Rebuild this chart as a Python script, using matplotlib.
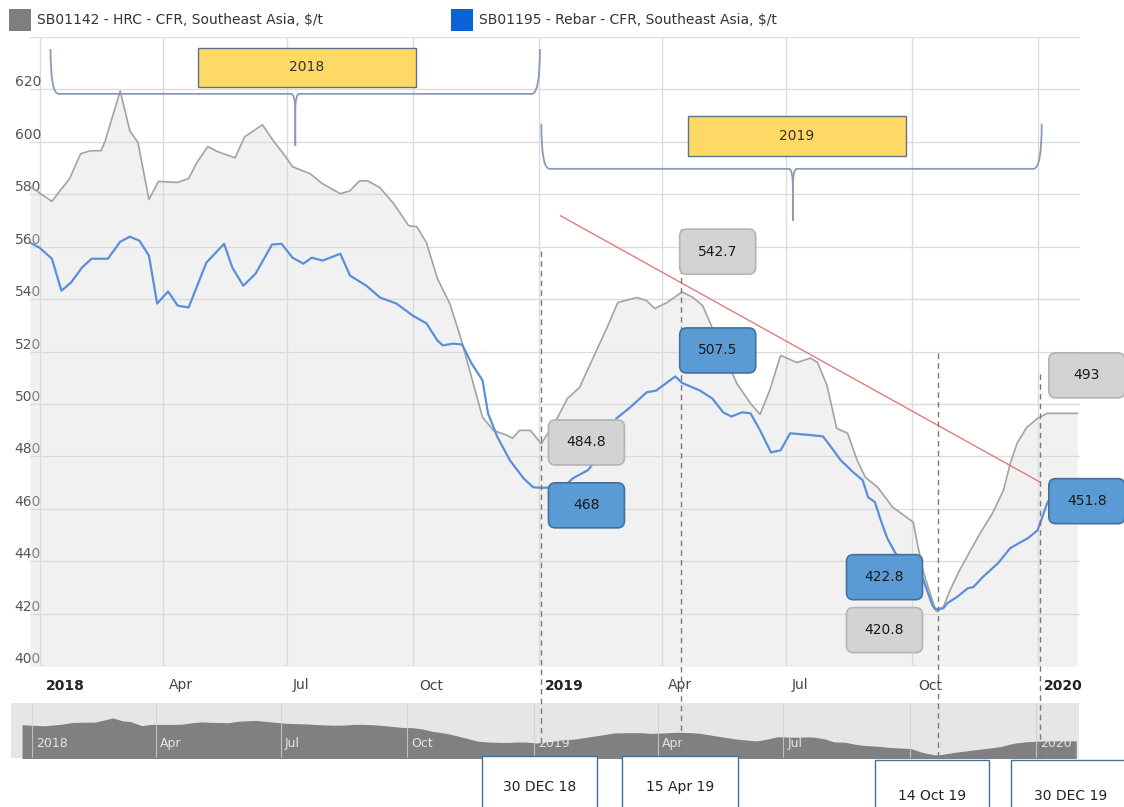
import matplotlib
matplotlib.use('Agg')
import matplotlib.pyplot as plt
import matplotlib.dates as mdates
import numpy as np
from matplotlib.patches import Rectangle, FancyBboxPatch, PathPatch
from matplotlib.path import Path
from matplotlib.transforms import ScaledTranslation, blended_transform_factory

# HRC - CFR Southeast Asia ($/t)
hrc_dates = ['2017-12-25', '2018-01-10', '2018-01-17', '2018-01-23', '2018-01-31', '2018-02-07',
             '2018-02-15', '2018-02-18', '2018-03-01', '2018-03-08', '2018-03-14', '2018-03-22',
             '2018-03-29', '2018-04-12', '2018-04-20', '2018-04-26', '2018-05-04', '2018-05-11',
             '2018-05-24', '2018-05-31', '2018-06-13', '2018-06-21', '2018-06-30', '2018-07-05',
             '2018-07-18', '2018-07-27', '2018-08-09', '2018-08-16', '2018-08-23', '2018-08-29',
             '2018-09-07', '2018-09-17', '2018-09-28', '2018-10-04', '2018-10-11', '2018-10-19',
             '2018-10-28', '2018-11-05', '2018-11-13', '2018-11-21', '2018-11-29', '2018-12-09',
             '2018-12-13', '2018-12-18', '2018-12-26', '2019-01-03', '2019-01-15', '2019-01-22',
             '2019-01-31', '2019-02-09', '2019-02-20', '2019-02-28', '2019-03-14', '2019-03-21',
             '2019-03-27', '2019-04-05', '2019-04-16', '2019-04-24', '2019-05-01', '2019-05-08',
             '2019-05-26', '2019-06-05', '2019-06-12', '2019-06-19', '2019-06-27', '2019-07-09',
             '2019-07-19', '2019-07-24', '2019-07-31', '2019-08-07', '2019-08-15', '2019-08-22',
             '2019-08-28', '2019-09-06', '2019-09-17', '2019-09-27', '2019-10-02', '2019-10-05',
             '2019-10-09', '2019-10-16', '2019-10-19', '2019-10-24', '2019-10-29', '2019-11-05',
             '2019-11-13', '2019-11-20', '2019-11-29', '2019-12-07', '2019-12-12', '2019-12-17',
             '2019-12-24', '2020-01-01', '2020-01-08', '2020-01-30']
hrc_values = [583.0, 577.3, 582.0, 586.0, 595.4, 596.6,
              596.6, 600.4, 619.4, 604.2, 599.7, 578.0,
              584.9, 584.5, 586.0, 592.0, 598.2, 596.3,
              593.9, 601.9, 606.5, 600.4, 594.3, 590.5,
              587.8, 584.0, 580.2, 581.3, 585.1, 585.1,
              582.5, 576.4, 568.0, 567.6, 561.5, 547.8,
              538.3, 525.3, 510.1, 494.9, 489.9, 488.0,
              486.9, 489.9, 489.9, 484.8, 494.9, 502.0,
              506.3, 516.6, 529.0, 538.7, 540.6, 539.4,
              536.4, 538.7, 542.7, 540.6, 537.5, 529.1,
              507.8, 500.2, 496.0, 505.1, 518.5, 515.8,
              517.5, 515.8, 507.0, 490.7, 488.8, 478.5,
              472.0, 468.2, 460.6, 456.8, 454.9, 446.9,
              436.6, 425.1, 420.8, 422.5, 429.0, 436.6,
              444.2, 450.7, 458.3, 467.0, 477.3, 485.0,
              491.0, 494.5, 496.4, 496.4]

# Rebar - CFR Southeast Asia ($/t)
rebar_dates = ['2017-12-25', '2018-01-01', '2018-01-10', '2018-01-17', '2018-01-24', '2018-02-01',
               '2018-02-08', '2018-02-20', '2018-03-01', '2018-03-08', '2018-03-15', '2018-03-22',
               '2018-03-28', '2018-04-05', '2018-04-12', '2018-04-20', '2018-05-03', '2018-05-16',
               '2018-05-22', '2018-05-30', '2018-06-08', '2018-06-20', '2018-06-27', '2018-07-05',
               '2018-07-13', '2018-07-19', '2018-07-27', '2018-08-09', '2018-08-16', '2018-08-28',
               '2018-09-07', '2018-09-19', '2018-10-01', '2018-10-11', '2018-10-19', '2018-10-23',
               '2018-10-30', '2018-11-06', '2018-11-13', '2018-11-21', '2018-11-25', '2018-12-02',
               '2018-12-11', '2018-12-21', '2018-12-28', '2019-01-03', '2019-01-19', '2019-01-26',
               '2019-02-06', '2019-02-09', '2019-02-27', '2019-03-09', '2019-03-21', '2019-03-28',
               '2019-04-11', '2019-04-16', '2019-04-29', '2019-05-08', '2019-05-16', '2019-05-22',
               '2019-05-30', '2019-06-05', '2019-06-12', '2019-06-20', '2019-06-27', '2019-07-04',
               '2019-07-21', '2019-07-28', '2019-08-02', '2019-08-10', '2019-08-19', '2019-08-26',
               '2019-08-30', '2019-09-04', '2019-09-09', '2019-09-13', '2019-09-19', '2019-10-09',
               '2019-10-16', '2019-10-18', '2019-10-24', '2019-10-27', '2019-11-03', '2019-11-11',
               '2019-11-15', '2019-11-22', '2019-12-03', '2019-12-12', '2019-12-25', '2020-01-01',
               '2020-01-08', '2020-01-10', '2020-01-30']
rebar_values = [561.5, 559.6, 555.4, 543.2, 546.3, 552.0,
                555.4, 555.4, 561.9, 563.8, 562.3, 556.6,
                538.3, 542.9, 537.5, 536.8, 553.9, 561.1,
                552.0, 545.1, 549.7, 560.8, 561.1, 555.8,
                553.5, 555.8, 554.7, 557.3, 549.0, 545.1,
                540.6, 538.3, 533.7, 530.7, 524.2, 522.3,
                523.0, 522.7, 515.4, 509.0, 496.4, 487.2,
                478.5, 471.6, 468.2, 468.0, 468.2, 471.6,
                474.7, 476.6, 494.5, 498.7, 504.4, 505.1,
                510.5, 508.0, 505.1, 502.1, 496.8, 495.2,
                496.8, 496.4, 489.9, 481.5, 482.3, 488.8,
                488.0, 487.6, 484.2, 478.5, 474.0, 470.9,
                464.4, 462.5, 454.5, 448.8, 443.0, 433.5,
                423.2, 421.7, 422.0, 424.0, 426.3, 429.7,
                430.1, 434.0, 439.2, 445.0, 448.8, 451.8,
                462.1, 464.0, 464.0]

legend_labels = ['SB01142 - HRC - CFR, Southeast Asia, $/t', 'SB01195 - Rebar - CFR, Southeast Asia, $/t']
tick_dates = ['2018-01-01', '2018-04-01', '2018-07-01', '2018-10-01', '2019-01-01',
              '2019-04-01', '2019-07-01', '2019-10-01', '2020-01-01']
tick_labels = ['2018', 'Apr', 'Jul', 'Oct', '2019', 'Apr', 'Jul', 'Oct', '2020']

# value call-outs
box_labels = ['542.7', '507.5', '484.8', '468', '422.8', '420.8', '493', '451.8']
box_series = ['hrc', 'rebar', 'hrc', 'rebar', 'rebar', 'hrc', 'hrc', 'rebar']
box_dates = ['2019-05-12', '2019-05-12', '2019-02-05', '2019-02-05',
             '2019-09-11', '2019-09-11', '2020-02-06', '2020-02-06']
box_values = [558.1, 520.4, 485.3, 461.3, 433.9, 413.7, 510.9, 462.9]

# marker dates (dashed lines + boxes underneath)
mark_dates = ['2019-01-03', '2019-04-15', '2019-10-20', '2020-01-03']
mark_tops = [558.5, 566.9, 519.6, 511.6]
mark_labels = ['30 DEC 18', '15 Apr 19', '14 Oct 19', '30 DEC 19']

trend_dates = ['2019-01-17', '2020-01-03']
trend_values = [571.8, 470.1]


def num(d):
    return mdates.date2num(np.datetime64(d))


W, H = 1124, 807
fig = plt.figure(figsize=(W / 100, H / 100), dpi=100)


def px_rect(x0, y0, x1, y1):
    return [x0 / W, 1 - y1 / H, (x1 - x0) / W, (y1 - y0) / H]


nav = fig.add_axes(px_rect(11, 703, 1079, 758))
ax = fig.add_axes(px_rect(30, 37, 1080, 666))
ax.set_zorder(3)
ax.set_facecolor('none')

hx = np.array(hrc_dates, dtype='datetime64[D]')
rx = np.array(rebar_dates, dtype='datetime64[D]')

# main series
ax.fill_between(hx, hrc_values, 400, color='#d9d9d9', alpha=0.35, lw=0, zorder=1)
ax.plot(hx, hrc_values, color='#a3a3a3', lw=1.2, zorder=3)
ax.plot(rx, rebar_values, color='#5b8fd9', lw=1.6, zorder=4)
ax.plot(np.array(trend_dates, dtype='datetime64[D]'), trend_values, color='#e57c7c', lw=1, zorder=4)

ax.set_xlim(num('2017-12-25'), num('2020-02-01'))
ax.set_ylim(400, 640)
for s in ax.spines.values():
    s.set_visible(False)

ax.set_yticks(np.arange(400, 641, 20))
ax.set_yticklabels([str(v) if v < 640 else '' for v in range(400, 641, 20)])
ax.tick_params(axis='y', length=0, pad=11, labelsize=10, labelcolor='#555555')
for lbl in ax.get_yticklabels():
    lbl.set_ha('left')
    lbl.set_va('bottom')

ax.set_xticks([num(d) for d in tick_dates])
ax.set_xticklabels(tick_labels)
ax.tick_params(axis='x', length=0, pad=9, labelsize=10, labelcolor='#444444')
shift = ScaledTranslation(6 / 100, 0, fig.dpi_scale_trans)
for lbl in ax.get_xticklabels():
    lbl.set_ha('left')
    lbl.set_transform(lbl.get_transform() + shift)
    if lbl.get_text().isdigit():
        lbl.set_fontweight('bold')
        lbl.set_color('#222222')
ax.grid(True, color='#dcdcdc', lw=1)
ax.set_axisbelow(True)

# dashed marker lines, running down to the date boxes
for d, top in zip(mark_dates, mark_tops):
    ax.plot([num(d), num(d)], [top, 364.9], ls=(0, (4, 3)), color='#7a7a7a', lw=1,
            clip_on=False, zorder=5)


# curly braces
def brace(x0, x1, xm, ytop, yline, ytip, rx=6, cx=3, cy=7):
    codes = [Path.MOVETO, Path.CURVE3, Path.CURVE3, Path.LINETO, Path.CURVE3, Path.CURVE3, Path.LINETO]
    for xe, sgn in ((x0, 1), (x1, -1)):
        verts = [(xe, ytop), (xe, yline), (xe + sgn * rx, yline), (xm - sgn * cx, yline),
                 (xm, yline), (xm, yline - cy), (xm, ytip)]
        ax.add_patch(PathPatch(Path(verts, codes), fc='none', ec='#8c9ab3', lw=1.3,
                               zorder=5, clip_on=False))


brace(num('2018-01-09'), num('2019-01-02'), num('2018-07-07'), 635.4, 618.3, 598.5)
brace(num('2019-01-03'), num('2020-01-04'), num('2019-07-06'), 606.9, 589.7, 569.9)

for d0, d1, y0, y1, txt in (('2018-04-27', '2018-10-03', 621.0, 635.8, '2018'),
                            ('2019-04-20', '2019-09-27', 594.7, 609.9, '2019')):
    ax.add_patch(Rectangle((num(d0), y0), num(d1) - num(d0), y1 - y0, fc='#ffd966',
                           ec='#5f7386', lw=1, zorder=6))
    ax.text((num(d0) + num(d1)) / 2, (y0 + y1) / 2, txt, ha='center', va='center',
            fontsize=10, color='#333333', zorder=7)

# value call-out boxes
styles = {'hrc': ('#d3d3d3', '#b4b4b4'), 'rebar': ('#5b9bd5', '#41719c')}
for lab, ser, d, v in zip(box_labels, box_series, box_dates, box_values):
    fc, ec = styles[ser]
    trans = fig.dpi_scale_trans + ScaledTranslation(num(d), v, ax.transData)
    p = FancyBboxPatch((-0.38, -0.225), 0.76, 0.45, boxstyle='round,pad=0,rounding_size=0.07',
                       fc=fc, ec=ec, lw=1.2, transform=trans, clip_on=False, zorder=8)
    ax.add_artist(p)
    ax.text(num(d), v, lab, ha='center', va='center', fontsize=10, color='#1a1a1a',
            zorder=9, clip_on=False)

# navigator
nav.set_facecolor('#e6e6e6')
nav.fill_between(hx, hrc_values, 0, color='#808080', lw=0)
nav.set_xlim(num('2017-12-17'), num('2020-02-01'))
nav.set_ylim(404, 700)
nav.set_xticks([])
nav.set_yticks([])
for s in nav.spines.values():
    s.set_visible(False)
ntrans = blended_transform_factory(nav.transData, nav.transAxes)
for d, lab in zip(tick_dates, tick_labels):
    nav.axvline(num(d), color='#cfcfcf', lw=0.8, alpha=0.8)
    nav.text(num(d) + 3, 0.14, lab, transform=ntrans, ha='left', va='bottom',
             fontsize=9, color='#e4e4e4')

# legend
leg_colors = ['#7f7f7f', '#0a64d6']
leg_x = [9, 451]
for x0, c, lab in zip(leg_x, leg_colors, legend_labels):
    fig.add_artist(Rectangle((x0 / W, 1 - 31 / H), 22 / W, 22 / H, transform=fig.transFigure,
                             fc=c, ec='none'))
    fig.text((x0 + 28) / W, 1 - 20 / H, lab, ha='left', va='center', fontsize=10, color='#333333')

# date boxes below the chart
box_px = [(482, 597, 756, 787), (622, 738, 756, 787), (875, 989, 760, 796), (1011, 1130, 760, 796)]
for (x0, x1, y0, ty), lab in zip(box_px, mark_labels):
    fig.add_artist(Rectangle((x0 / W, 1 - 812 / H), (x1 - x0) / W, (812 - y0) / H,
                             transform=fig.transFigure, fc='white', ec='#46709c', lw=1, zorder=10))
    fig.text((x0 + x1) / 2 / W, 1 - ty / H, lab, ha='center', va='center', fontsize=10,
             family=['Liberation Sans Narrow', 'DejaVu Sans'], color='#222222', zorder=11)

fig.savefig('out.png', dpi=100)
